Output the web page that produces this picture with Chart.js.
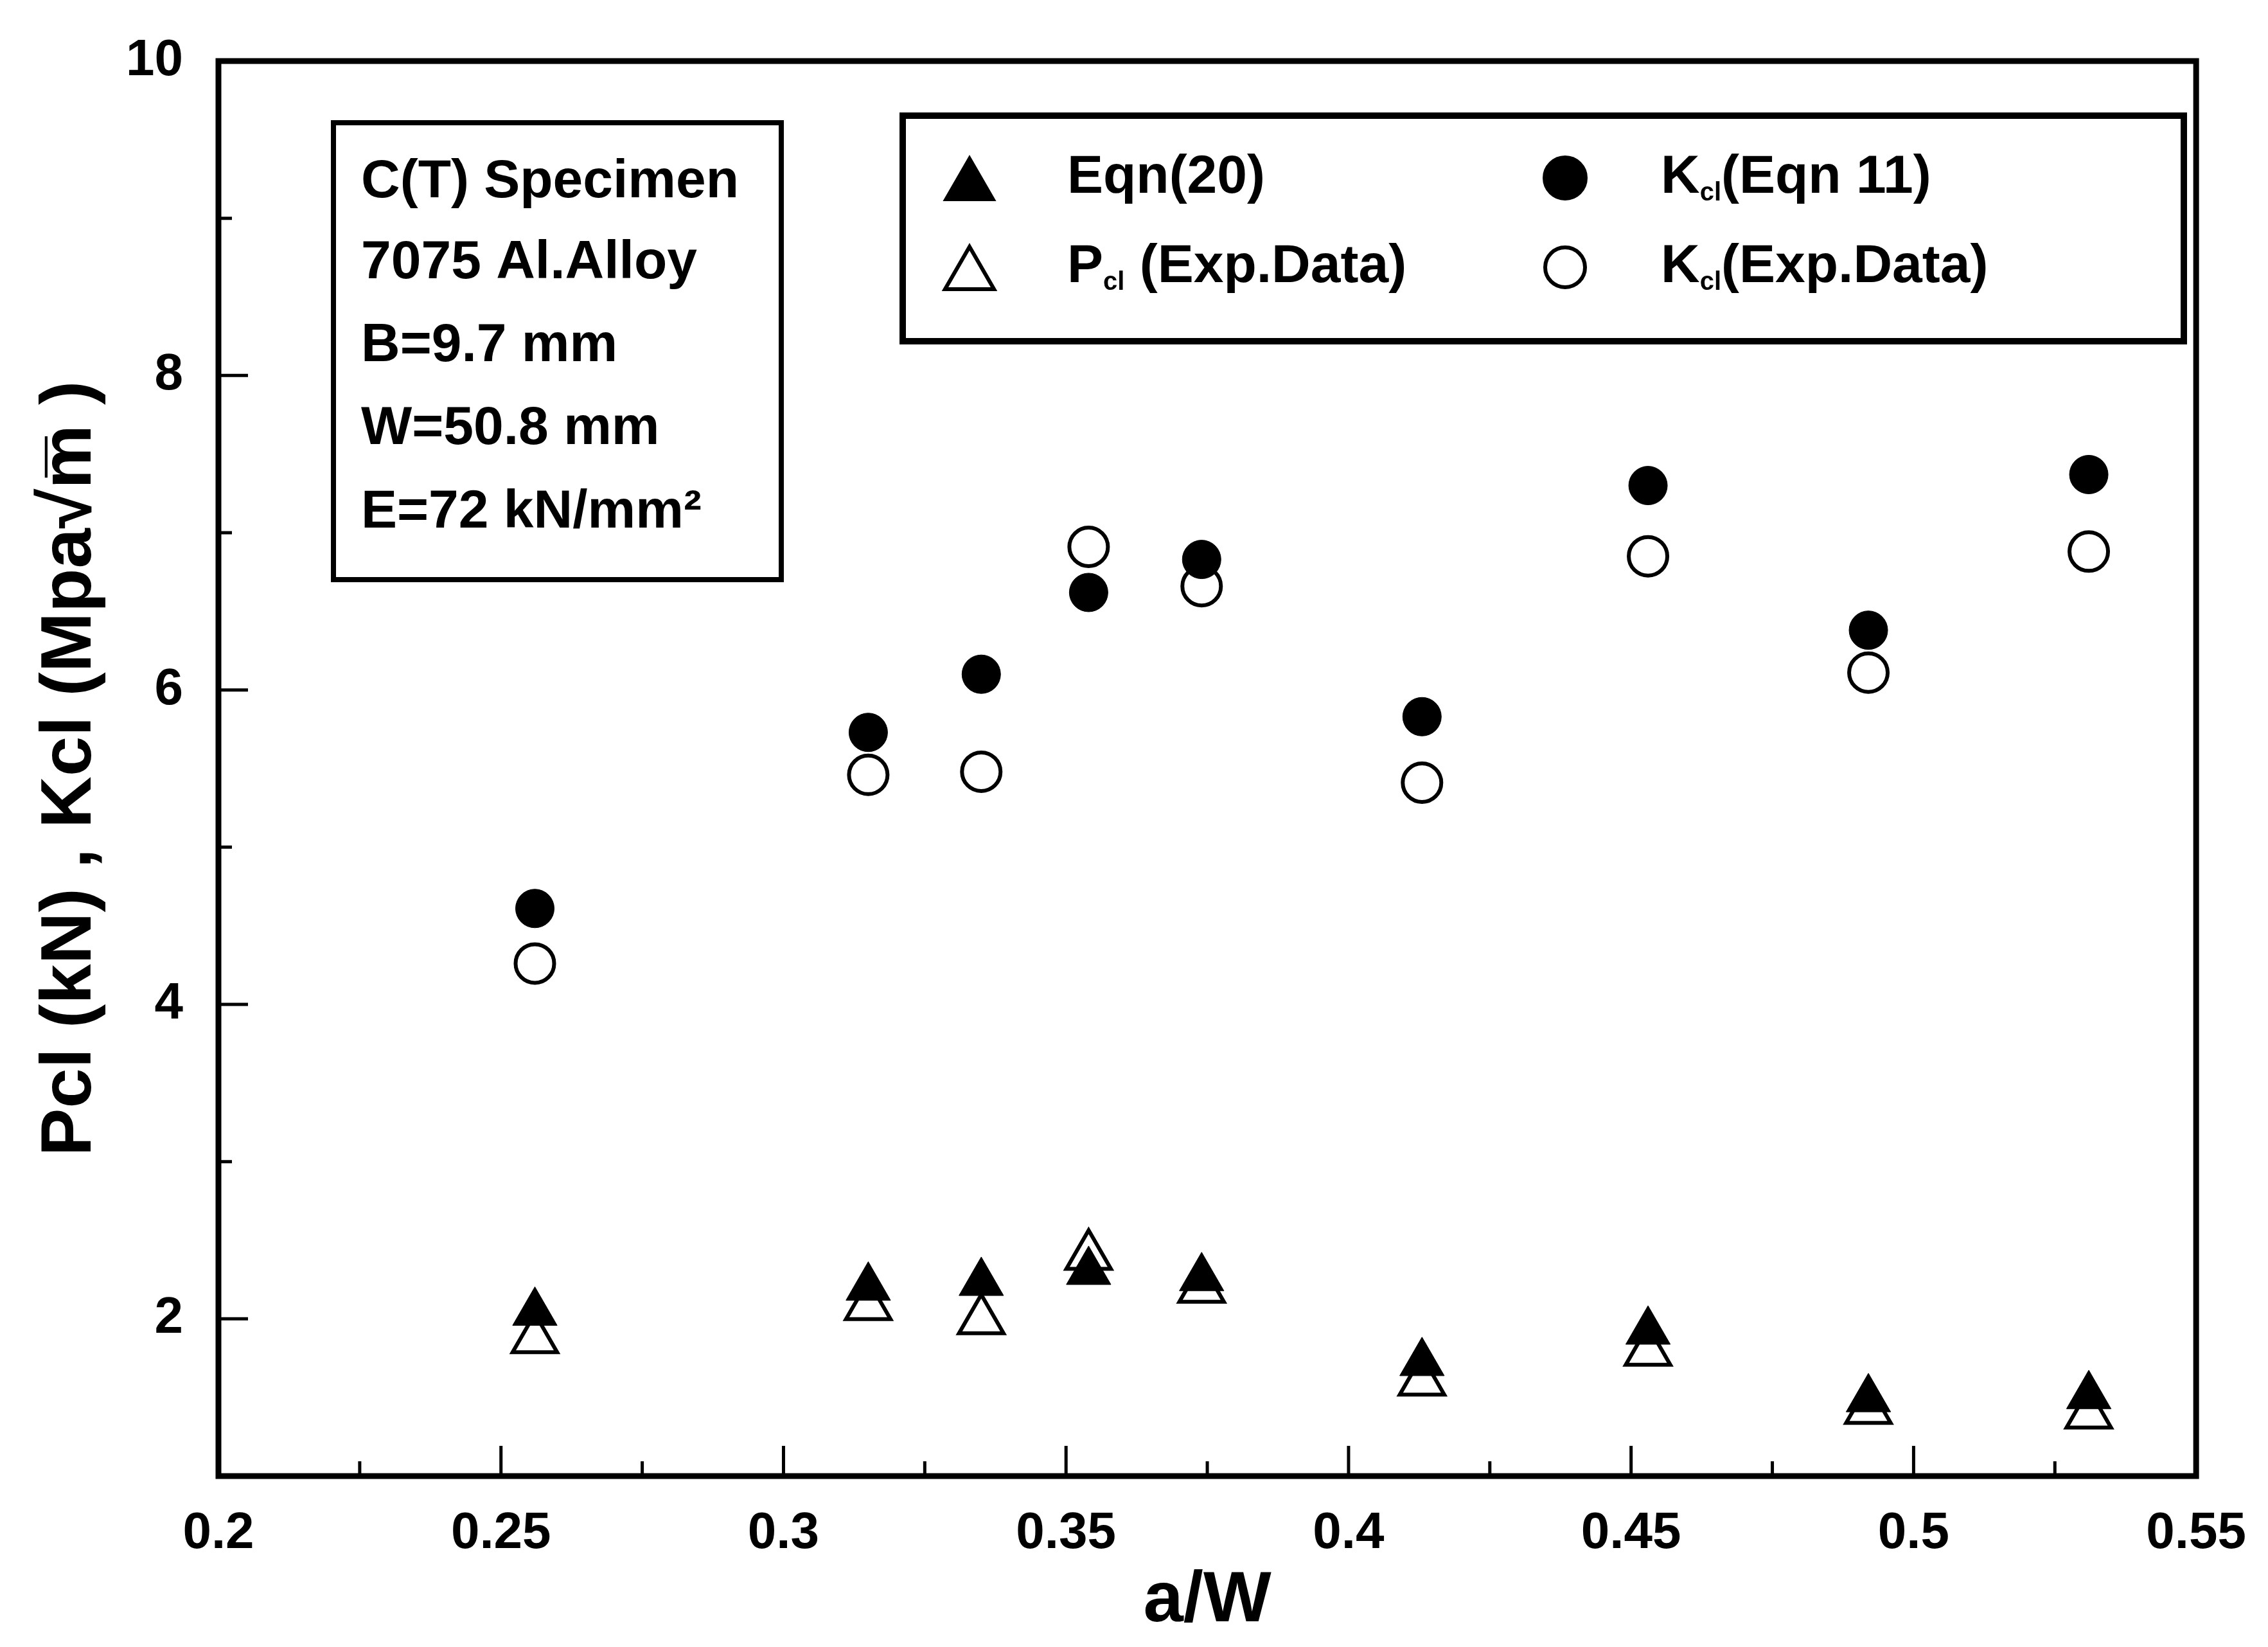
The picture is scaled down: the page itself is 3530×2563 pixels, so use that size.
<!DOCTYPE html>
<html><head><meta charset="utf-8">
<script src="https://cdn.jsdelivr.net/npm/chart.js"></script>
<style>html,body{margin:0;padding:0;background:#fff;} canvas{display:block;}</style>
</head><body>
<canvas id="c" width="3530" height="2563" style="width:3530px;height:2563px"></canvas>
<script>
// ---- data ----
const aOverW   = [0.256, 0.315, 0.335, 0.354, 0.374, 0.413, 0.453, 0.492, 0.531];
const pclEqn20 = [2.04, 2.20, 2.23, 2.30, 2.26, 1.72, 1.92, 1.49, 1.51];
const pclExp   = [1.87, 2.08, 1.99, 2.40, 2.19, 1.60, 1.79, 1.42, 1.39];
const kclEqn11 = [4.61, 5.73, 6.10, 6.62, 6.83, 5.83, 7.30, 6.38, 7.37];
const kclExp   = [4.26, 5.46, 5.48, 6.91, 6.66, 5.41, 6.85, 6.11, 6.88];
const xTickLabels = ['0.2','0.25','0.3','0.35','0.4','0.45','0.5','0.55'];
const xMinorTicks = [0.225, 0.275, 0.325, 0.375, 0.425, 0.475, 0.525];
const yTickLabels = ['2','4','6','8','10'];
const yMinorTicks = [3, 5, 7, 9];
const specimenLines = ['C(T) Specimen', '7075 Al.Alloy', 'B=9.7 mm', 'W=50.8 mm', 'E=72 kN/mm²'];
const xTitle = 'a/W';
const yTitle = 'Pcl (kN) , Kcl (Mpa√m̅ )';

const FAM = "'Liberation Sans', Arial, Helvetica, sans-serif";
const pts = ys => aOverW.map((x, i) => ({x, y: ys[i]}));

function marker(ctx, style, filled, cx, cy, r, lw) {
  ctx.save();
  ctx.beginPath();
  if (style === 'triangle') {
    ctx.moveTo(cx, cy - r);
    ctx.lineTo(cx + r * Math.sin(2 * Math.PI / 3), cy + r / 2);
    ctx.lineTo(cx - r * Math.sin(2 * Math.PI / 3), cy + r / 2);
    ctx.closePath();
  } else {
    ctx.arc(cx, cy, r, 0, Math.PI * 2);
  }
  ctx.lineWidth = lw; ctx.strokeStyle = '#000'; ctx.lineJoin = 'miter';
  if (filled) { ctx.fillStyle = '#000'; ctx.fill(); }
  ctx.stroke();
  ctx.restore();
}

function subText(ctx, parts, x, y) {
  // parts: [text, isSub]
  let cx = x;
  parts.forEach(([t, sub]) => {
    ctx.font = sub ? `bold 40px ${FAM}` : `bold 84px ${FAM}`;
    ctx.fillText(t, cx, sub ? y + 24 : y);
    cx += ctx.measureText(t).width;
  });
}

const paper = {
  id: 'paper',
  beforeDraw(chart) {
    const c = chart.ctx; c.save(); c.fillStyle = '#fff'; c.fillRect(0, 0, chart.width, chart.height); c.restore();
  },
  afterDraw(chart) {
    const {ctx, chartArea: a, scales: {x, y}} = chart;
    ctx.save();
    ctx.strokeStyle = '#000';
    ctx.lineWidth = 5;
    ctx.beginPath();
    xTickLabels.map(Number).forEach(v => {
      if (v <= x.min || v >= x.max) return;
      const p = x.getPixelForValue(v); ctx.moveTo(p, a.bottom); ctx.lineTo(p, a.bottom - 47);
    });
    xMinorTicks.forEach(v => {
      const p = x.getPixelForValue(v); ctx.moveTo(p, a.bottom); ctx.lineTo(p, a.bottom - 23);
    });
    yTickLabels.map(Number).forEach(v => {
      if (v <= y.min || v >= y.max) return;
      const p = y.getPixelForValue(v); ctx.moveTo(a.left, p); ctx.lineTo(a.left + 46, p);
    });
    yMinorTicks.forEach(v => {
      const p = y.getPixelForValue(v); ctx.moveTo(a.left, p); ctx.lineTo(a.left + 21, p);
    });
    ctx.stroke();
    // frame
    ctx.lineWidth = 9;
    ctx.strokeRect(a.left, a.top, a.right - a.left, a.bottom - a.top);

    // specimen text box
    ctx.lineWidth = 8;
    ctx.strokeRect(519, 191, 697, 711);
    ctx.fillStyle = '#000';
    ctx.textAlign = 'left'; ctx.textBaseline = 'middle';
    ctx.font = `bold 84px ${FAM}`;
    const lineY = [284, 410, 539, 668, 798];
    specimenLines.forEach((t, i) => ctx.fillText(t, 562, lineY[i]));

    // legend box
    ctx.lineWidth = 10;
    ctx.strokeRect(1405, 180, 1994, 351);
    marker(ctx, 'triangle', true, 1509, 289, 46, 2);
    marker(ctx, 'triangle', false, 1509, 428, 44, 6);
    marker(ctx, 'circle', true, 2436, 277, 34, 2);
    marker(ctx, 'circle', false, 2436, 416, 31, 6);
    ctx.fillStyle = '#000';
    subText(ctx, [['Eqn(20)', false]], 1661, 277);
    subText(ctx, [['P', false], ['cl', true], [' (Exp.Data)', false]], 1661, 416);
    subText(ctx, [['K', false], ['cl', true], ['(Eqn 11)', false]], 2585, 277);
    subText(ctx, [['K', false], ['cl', true], ['(Exp.Data)', false]], 2585, 416);
    ctx.restore();
  }
};

new Chart(document.getElementById('c'), {
  type: 'scatter',
  data: {
    datasets: [
      {label: 'Eqn(20)', data: pts(pclEqn20), pointStyle: 'triangle', pointRadius: 40,
       backgroundColor: '#000', borderColor: '#000', borderWidth: 1},
      {label: 'Pcl (Exp.Data)', data: pts(pclExp), pointStyle: 'triangle', pointRadius: 40,
       backgroundColor: 'rgba(0,0,0,0)', borderColor: '#000', borderWidth: 6},
      {label: 'Kcl(Eqn 11)', data: pts(kclEqn11), pointStyle: 'circle', pointRadius: 30,
       backgroundColor: '#000', borderColor: '#000', borderWidth: 1},
      {label: 'Kcl(Exp.Data)', data: pts(kclExp), pointStyle: 'circle', pointRadius: 30,
       backgroundColor: 'rgba(0,0,0,0)', borderColor: '#000', borderWidth: 6}
    ]
  },
  options: {
    responsive: false,
    devicePixelRatio: 1,
    animation: false,
    layout: {padding: {top: 68, right: 95, left: 0, bottom: 0}},
    plugins: {legend: {display: false}, tooltip: {enabled: false}},
    elements: {point: {hoverRadius: 0}},
    scales: {
      x: {
        type: 'linear', min: 0.2, max: 0.55,
        grid: {display: false}, border: {display: false},
        ticks: {
          stepSize: 0.05, autoSkip: false, maxRotation: 0, padding: 34, color: '#000',
          font: {family: FAM, size: 80, weight: 'bold'},
          callback: v => xTickLabels[Math.round((v - 0.2) / 0.05)] ?? ''
        },
        title: {display: true, text: xTitle, color: '#000',
                font: {family: FAM, size: 112, weight: 'bold'}, padding: {top: 0, bottom: 4}},
        afterFit: s => { s.height = 266; }
      },
      y: {
        type: 'linear', min: 1, max: 10,
        grid: {display: false}, border: {display: false},
        ticks: {
          stepSize: 1, autoSkip: false, padding: 47, color: '#000',
          font: {family: FAM, size: 80, weight: 'bold'},
          callback: v => yTickLabels.includes(String(v)) ? String(v) : ''
        },
        title: {display: true, text: yTitle, color: '#000',
                font: {family: FAM, size: 112, weight: 'bold'}, padding: {top: 43, bottom: 0}},
        afterFit: s => { s.width = 340; }
      }
    }
  },
  plugins: [paper]
});
</script>
</body></html>
